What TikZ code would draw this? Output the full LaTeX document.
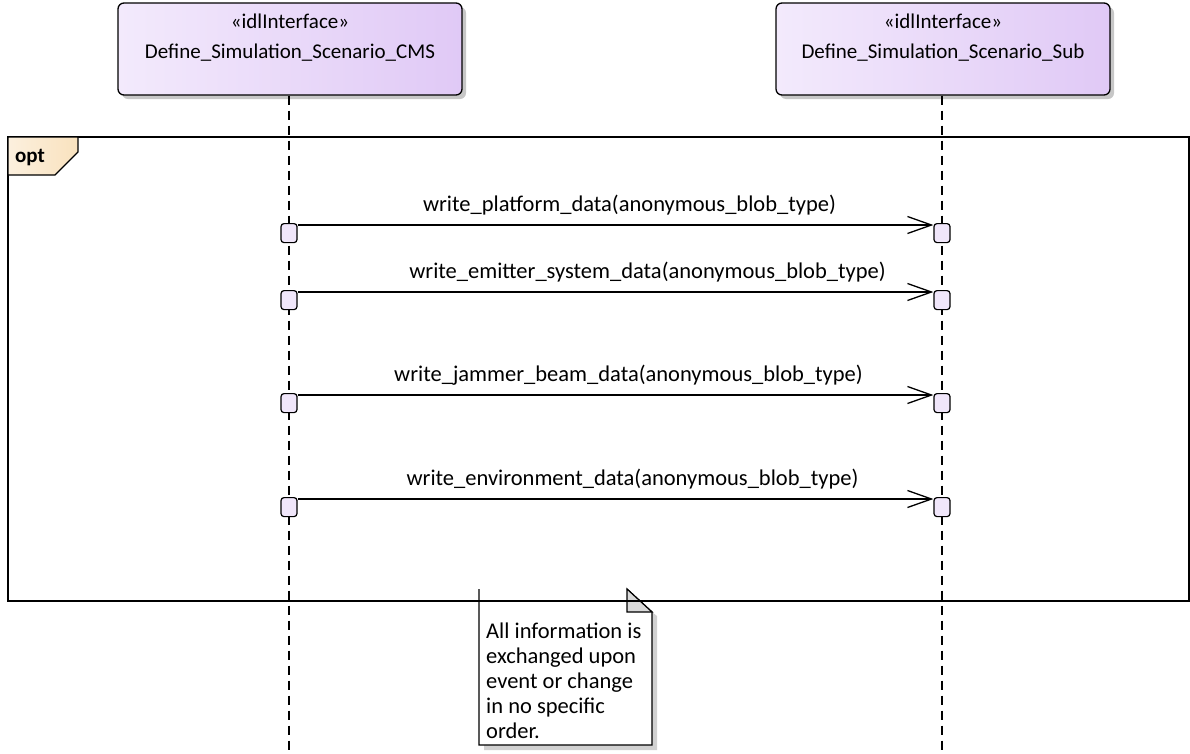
\documentclass[tikz,border=0pt]{standalone}
\usepackage{fontspec}
\setmainfont{Carlito}
\usetikzlibrary{arrows.meta,positioning,shadows}

\definecolor{ifaceL}{RGB}{243,234,252}
\definecolor{ifaceR}{RGB}{224,201,246}
\definecolor{tabL}{RGB}{252,240,222}
\definecolor{tabR}{RGB}{249,226,190}
\definecolor{actfill}{RGB}{240,230,250}
\definecolor{foldgray}{RGB}{217,217,217}

\tikzset{
  iface/.style={draw, line width=1.3pt, rounded corners=6pt, left color=ifaceL, right color=ifaceR,
    minimum width=344pt, minimum height=92pt, drop shadow={shadow xshift=4pt, shadow yshift=-4pt, fill=black!22, opacity=1}},
  lifeline/.style={line width=1.2pt, dash pattern=on 9pt off 6pt},
  act/.style={draw, line width=1.2pt, rounded corners=3pt, fill=actfill, minimum width=16pt, minimum height=19pt, inner sep=0pt, anchor=north},
  msg/.style={line width=1.3pt, -{Straight Barb[length=24pt, width=17pt, line width=1.3pt]}},
  txt/.style={font=\fontsize{21}{25}\selectfont, inner sep=1pt},
  msgtxt/.style={font=\fontsize{22.5}{25}\selectfont, inner sep=1pt}
}

\begin{document}
\begin{tikzpicture}[x=1pt, y=-1pt]
  \useasboundingbox (0,0) rectangle (1190,753);

  % Interface boxes
  \node[iface] (cms) at (290,49) {};
  \node[txt, below=10pt of cms.north] (cmsSt) {«idlInterface»};
  \node[txt, below=13pt of cmsSt] (cmsName) {Define\_Simulation\_Scenario\_CMS};
  \node[iface, minimum width=334pt] (sub) at (943,49) {};
  \node[txt, below=10pt of sub.north] (subSt) {«idlInterface»};
  \node[txt, below=13pt of subSt] (subName) {Define\_Simulation\_Scenario\_Sub};

  % Lifelines
  \coordinate (cmsEnd) at (289,753);
  \coordinate (subEnd) at (942,753);
  \draw[lifeline] (cms.south -| cmsEnd) -- (cmsEnd);
  \draw[lifeline] (sub.south -| subEnd) -- (subEnd);

  % Note (below the frame)
  \fill[black!18] (484,750) -- (657,750) -- (657,616) -- (652,612) -- (652,745) -- (484,745) -- cycle;
  \fill[white] (479,589) -- (627,589) -- (652,612) -- (652,745) -- (479,745) -- cycle;
  \draw[line width=1.2pt] (627,589) -- (652,612) -- (652,745) -- (479,745) -- (479,589);
  \draw[line width=1.2pt, fill=foldgray] (627,589) -- (652,612) -- (627,612) -- cycle;
  \node[msgtxt, anchor=north west, align=left] (note) at (485,622)
    {All information is\\exchanged upon\\event or change\\in no specific\\order.};

  % opt frame
  \draw[line width=1.5pt] (8,137) rectangle (1189,601);
  \draw[line width=1.3pt, left color=tabL, right color=tabR]
    (8,137) -- (78,137) -- (78,152) -- (55,175) -- (8,175) -- cycle;
  \node[txt, font=\fontsize{21}{25}\selectfont\bfseries] (optLabel) at (30,158) {opt};

  % Messages
  \foreach \y/\name/\op/\dx in {225/p/platform/14, 292/e/emitter\_system/32, 395/j/jammer\_beam/13, 499/v/environment/17} {
    \node[act] (L\name) at (289,\y-2) {};
    \node[act] (R\name) at (942,\y-2) {};
    \draw[msg] ([yshift=-2pt]L\name.north east) -- ([yshift=-2pt]R\name.north west)
      node[msgtxt, midway, above=8pt, xshift=\dx pt] {write\_\op\_data(anonymous\_blob\_type)};
  }
\end{tikzpicture}
\end{document}
